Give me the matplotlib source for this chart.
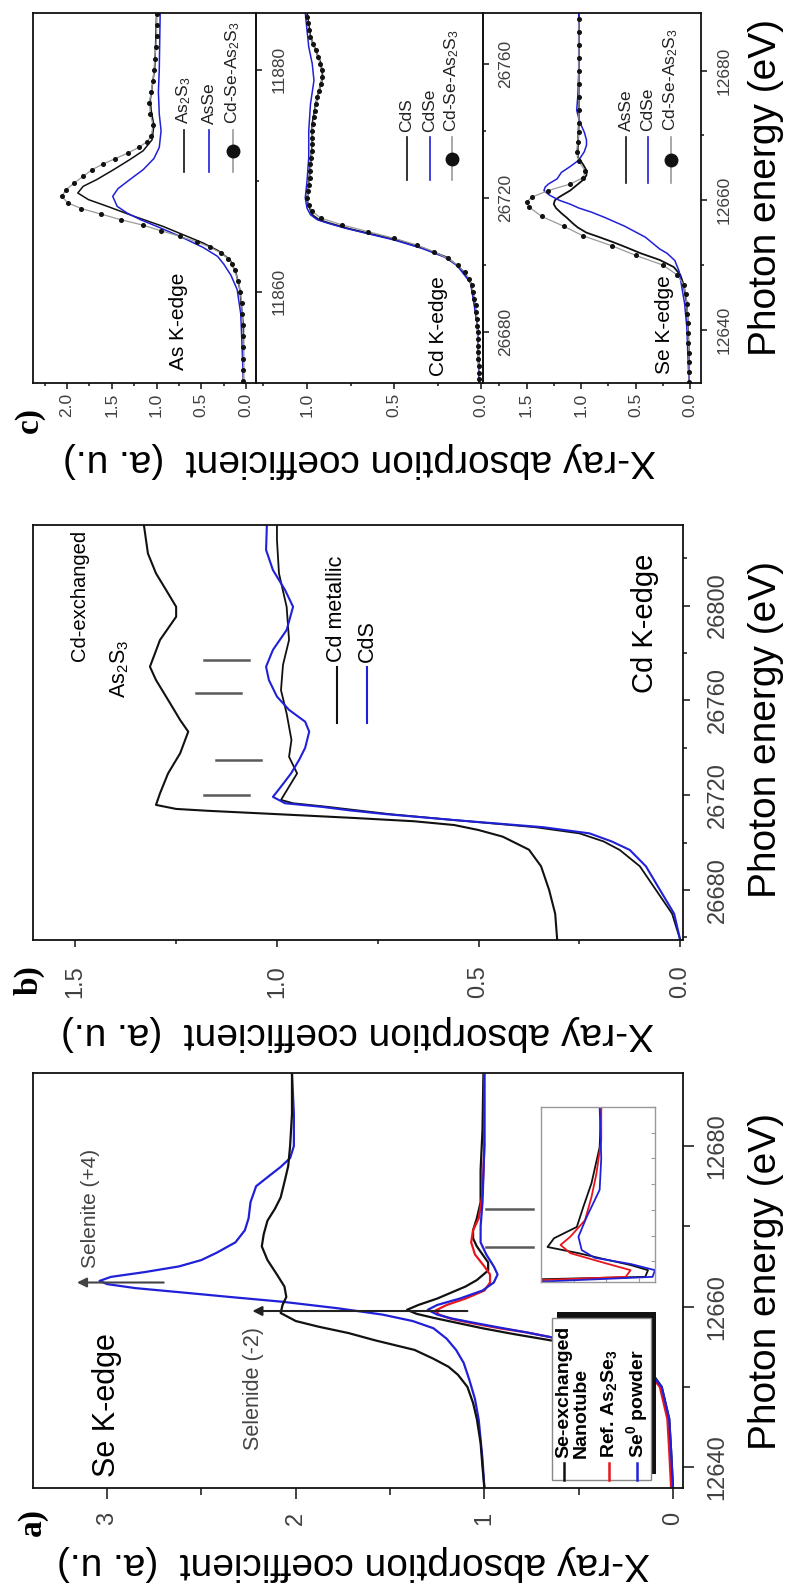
import matplotlib
matplotlib.use("Agg")
import matplotlib.pyplot as plt
import numpy as np
from matplotlib.lines import Line2D
from matplotlib.patches import Rectangle
from matplotlib.ticker import MultipleLocator, FormatStrFormatter

plt.rcParams["font.family"] = ["Liberation Sans", "DejaVu Sans"]
plt.rcParams["mathtext.default"] = "regular"

BLACK = "#111111"
BLUE = "#2020d8"
RED = "#e8161c"
GREY = "#5a5a5a"
TICK = "#404040"

# ---------------- panel a : Se K-edge, (energy eV, absorption) ----------------
a_nano_top = [(12637.4, 1.00), (12640, 1.01), (12643, 1.02), (12646, 1.04), (12648, 1.06),
              (12650, 1.09), (12651.5, 1.14), (12652.5, 1.19), (12653.5, 1.27), (12654.6, 1.37),
              (12655.8, 1.58), (12656.7, 1.72), (12657.5, 1.88), (12658.2, 2.00), (12659.2, 2.08),
              (12660.2, 2.07), (12661.2, 2.05), (12662.5, 2.06), (12664, 2.10), (12665.8, 2.15),
              (12667.5, 2.18), (12669, 2.17), (12670.7, 2.15), (12672.2, 2.11), (12673.6, 2.08),
              (12675.5, 2.06), (12677.5, 2.04), (12680, 2.03), (12684, 2.02), (12689.1, 2.02)]
a_selenite_top = [(12637.4, 1.00), (12641, 1.01), (12645.9, 1.03), (12648.5, 1.05), (12650.9, 1.08),
                  (12653, 1.11), (12654.6, 1.15), (12656, 1.20), (12657.3, 1.27), (12658.2, 1.38),
                  (12659, 1.54), (12659.8, 1.78), (12660.6, 2.07), (12661.2, 2.35), (12661.8, 2.62),
                  (12662.3, 2.85), (12662.8, 3.00), (12663.2, 3.04), (12663.7, 2.98), (12664.3, 2.80),
                  (12665, 2.62), (12665.8, 2.50), (12666.7, 2.42), (12668, 2.32), (12669.5, 2.27),
                  (12671, 2.25), (12673, 2.24), (12675, 2.21), (12676.3, 2.14), (12677.4, 2.08),
                  (12678.5, 2.03), (12680, 2.01), (12684, 2.01), (12689.1, 2.02)]
a_nano = [(12637.4, 0.00), (12642, 0.01), (12646, 0.02), (12648, 0.04), (12650, 0.06), (12652, 0.12),
          (12653.5, 0.24), (12654.5, 0.36), (12655.3, 0.52), (12655.8, 0.65), (12656.6, 0.85),
          (12657.3, 1.01), (12658, 1.15), (12658.6, 1.27), (12659.1, 1.36), (12659.6, 1.41),
          (12660.2, 1.35), (12661, 1.25), (12661.7, 1.18), (12662.5, 1.10), (12663.3, 1.04),
          (12664.5, 0.98), (12665.5, 0.98), (12666.5, 1.01), (12667.5, 1.04), (12668.5, 1.06),
          (12669.5, 1.06), (12671, 1.04), (12673, 1.02), (12677, 1.02), (12682, 1.01), (12689.1, 1.005)]
a_as2se3 = [(12637.4, 0.01), (12642, 0.02), (12646, 0.03), (12648, 0.05), (12650, 0.07), (12652, 0.14),
            (12653.5, 0.28), (12654.6, 0.42), (12655.5, 0.53), (12656.2, 0.65), (12656.8, 0.78),
            (12657.3, 0.92), (12658, 1.08), (12658.5, 1.18), (12659, 1.24), (12659.5, 1.26),
            (12660.2, 1.20), (12661, 1.10), (12662, 1.00), (12663, 0.97), (12664, 0.97), (12665, 1.00),
            (12666.5, 1.05), (12668, 1.07), (12669.5, 1.06), (12671, 1.03), (12674, 1.01),
            (12680, 1.00), (12689.1, 1.00)]
a_se0 = [(12637.4, 0.00), (12642, 0.01), (12646, 0.02), (12648, 0.04), (12650, 0.06), (12652, 0.13),
         (12653.5, 0.26), (12654.6, 0.41), (12655.5, 0.52), (12656.2, 0.65), (12656.8, 0.78),
         (12657.3, 0.90), (12658, 1.06), (12658.5, 1.17), (12659, 1.25), (12659.6, 1.30),
         (12660.2, 1.25), (12661, 1.13), (12662, 1.01), (12663, 0.95), (12664, 0.93), (12665, 0.95),
         (12666.5, 0.99), (12668, 1.02), (12670, 1.02), (12673, 1.01), (12680, 1.00), (12689.1, 1.00)]
# inset of panel a (energy, absorption)
in_nano = [(12656.5, 0.75), (12657, 1.44), (12658.3, 1.457), (12659.3, 1.35), (12660.5, 1.18),
           (12661.6, 1.03), (12662.8, 0.84), (12664.5, 0.88), (12666.7, 1.02), (12670.6, 1.06),
           (12675.2, 1.11), (12682.2, 1.16), (12690, 1.17)]
in_as2se3 = [(12656.3, 0.75), (12657, 1.32), (12658.3, 1.35), (12659.7, 1.19), (12661.6, 0.98),
             (12663.2, 0.92), (12664.8, 0.98), (12668, 1.07), (12672.5, 1.11), (12677, 1.14),
             (12683.6, 1.17), (12690, 1.17)]
in_se0 = [(12656, 0.75), (12657, 1.485), (12658.3, 1.50), (12659.5, 1.35), (12660.7, 1.13),
          (12662.2, 1.05), (12664.8, 1.03), (12668.6, 1.08), (12673.9, 1.16), (12680, 1.17), (12690, 1.16)]
a_marks = [12667.4, 12672.2]

# ---------------- panel b : Cd K-edge ----------------
b_cd_exch = [(26659, 0.305), (26670, 0.31), (26680, 0.325), (26690, 0.345), (26697, 0.375),
             (26702.5, 0.44), (26705.3, 0.50), (26707.4, 0.56), (26709, 0.66), (26710.4, 0.81),
             (26711.5, 0.94), (26712.5, 1.06), (26713.4, 1.17), (26714.2, 1.25), (26715.9, 1.30),
             (26720.8, 1.29), (26729.2, 1.27), (26737.7, 1.24), (26746.8, 1.22), (26751.7, 1.24),
             (26758.8, 1.265), (26768.6, 1.30), (26774.2, 1.315), (26785.5, 1.29), (26795.3, 1.25),
             (26799.5, 1.25), (26806.6, 1.275), (26813.6, 1.30), (26822, 1.32), (26834, 1.33)]
b_cd_metal = [(26659, 0.0), (26670, 0.02), (26680, 0.06), (26690, 0.10), (26696.9, 0.15),
              (26700.5, 0.19), (26703.9, 0.25), (26706.5, 0.36), (26709.5, 0.56), (26712, 0.72),
              (26713.6, 0.80), (26715.1, 0.875), (26716.6, 0.96), (26718, 0.99), (26723.6, 0.97),
              (26729.2, 0.95), (26736.2, 0.97), (26743.3, 0.964), (26754.5, 0.976), (26764.3, 0.99),
              (26775, 0.985), (26785.5, 0.97), (26799.5, 0.976), (26813.6, 0.995), (26827.7, 1.0),
              (26834, 1.0)]
b_cds = [(26659, 0.0), (26670, 0.015), (26680, 0.05), (26690, 0.085), (26696.9, 0.125),
         (26700.5, 0.17), (26703.9, 0.225), (26706.5, 0.34), (26709.5, 0.56), (26712, 0.73),
         (26713.6, 0.82), (26715.1, 0.89), (26716.6, 0.98), (26719.3, 1.01), (26723.6, 0.99),
         (26729.2, 0.965), (26734.9, 0.945), (26740, 0.93), (26746.8, 0.92), (26751, 0.93),
         (26756, 0.97), (26761.6, 1.0), (26768.6, 1.02), (26774.2, 1.027), (26781.3, 1.01),
         (26789.7, 0.976), (26799.5, 0.96), (26806.6, 0.98), (26815, 1.01), (26823.5, 1.027),
         (26834, 1.025)]
b_marks = [(26720, 1.07, 1.18), (26735, 1.04, 1.15), (26763, 1.09, 1.20), (26777, 1.07, 1.18)]

# ---------------- panel c : As, Cd and Se K-edges ----------------
c_as_as2s3 = [(11851.8, 0.03), (11856.8, 0.03), (11858.5, 0.05), (11860.2, 0.07), (11861.6, 0.11),
              (11862.9, 0.18), (11863.7, 0.31), (11864.4, 0.48), (11865.2, 0.72), (11865.9, 0.93),
              (11866.8, 1.25), (11867.7, 1.55), (11868.3, 1.76), (11868.9, 1.88), (11869.5, 1.82),
              (11870.1, 1.67), (11871, 1.48), (11871.9, 1.30), (11872.7, 1.15), (11873.7, 1.05),
              (11875, 1.03), (11876.3, 1.06), (11877.3, 1.07), (11879, 1.04), (11880.3, 1.02),
              (11882.5, 1.01), (11885.1, 1.00)]
c_as_asse = [(11851.8, 0.03), (11856, 0.05), (11858, 0.06), (11860.2, 0.10), (11861.5, 0.17),
             (11862.5, 0.25), (11863.2, 0.32), (11864, 0.48), (11865, 0.74), (11865.8, 0.97),
             (11866.5, 1.18), (11867.1, 1.33), (11867.7, 1.44), (11868.6, 1.49), (11869.3, 1.43),
             (11870.1, 1.30), (11871, 1.15), (11872, 1.03), (11873, 0.97), (11874.5, 0.95),
             (11876, 0.97), (11878, 0.98), (11880, 0.97), (11885.1, 0.96)]
c_as_sample = [(11852, 0.03), (11853, 0.03), (11854, 0.03), (11855, 0.03), (11856, 0.035), (11857, 0.04),
               (11858, 0.045), (11859, 0.05), (11860, 0.065), (11861, 0.09), (11862, 0.13), (11862.5, 0.16),
               (11863, 0.20), (11863.5, 0.28), (11864, 0.40), (11864.5, 0.55), (11865, 0.74), (11865.5, 0.95),
               (11866, 1.15), (11866.5, 1.40), (11867, 1.62), (11867.5, 1.84), (11868, 1.99), (11868.6, 2.06),
               (11869.2, 2.01), (11869.8, 1.92), (11870.4, 1.82), (11871, 1.72), (11871.5, 1.60),
               (11872, 1.46), (11872.5, 1.32), (11873, 1.20), (11873.5, 1.11), (11874, 1.06), (11875, 1.04),
               (11876, 1.07), (11877, 1.08), (11878, 1.06), (11879, 1.04), (11880, 1.03), (11881, 1.02),
               (11882, 1.01), (11883, 1.00), (11884, 1.00), (11885, 1.00)]
c_cd_cds = [(26664.9, 0.01), (26672, 0.015), (26681.6, 0.02), (26690, 0.04), (26694.7, 0.06),
            (26698, 0.10), (26700, 0.14), (26702.4, 0.20), (26705, 0.33), (26707.5, 0.48),
            (26709.5, 0.65), (26711, 0.77), (26712.5, 0.87), (26713.5, 0.93), (26715, 0.97),
            (26716.4, 0.98), (26719.4, 1.00), (26724, 0.99), (26730, 0.98), (26736, 0.97),
            (26742, 0.97), (26748, 0.95), (26752, 0.93), (26756, 0.91), (26760, 0.92),
            (26764, 0.95), (26768, 0.98), (26775.1, 1.00)]
c_cd_cdse = [(26664.9, 0.01), (26681.6, 0.02), (26694.7, 0.06), (26700, 0.14), (26702.4, 0.21),
             (26705, 0.34), (26707.5, 0.50), (26709.5, 0.66), (26711, 0.78), (26712.5, 0.88),
             (26713.5, 0.94), (26715, 0.98), (26717, 1.00), (26720, 1.01), (26725, 1.00),
             (26732, 0.99), (26740, 0.99), (26748, 0.98), (26755, 0.96), (26760, 0.97),
             (26765, 0.99), (26770, 1.00), (26775.1, 1.01)]
c_cd_sample = [(26666, 0.01), (26668, 0.01), (26670, 0.012), (26672, 0.015), (26674, 0.015), (26676, 0.017),
               (26678, 0.018), (26680, 0.02), (26682, 0.022), (26684, 0.025), (26686, 0.028), (26688, 0.032),
               (26690, 0.038), (26692, 0.045), (26694, 0.055), (26696, 0.07), (26698, 0.095), (26700, 0.135),
               (26702, 0.19), (26704, 0.27), (26706, 0.37), (26708, 0.50), (26710, 0.65), (26712, 0.80),
               (26714, 0.92), (26716, 0.97), (26718, 0.99), (26720, 1.0), (26722, 0.995), (26724, 0.99),
               (26726, 0.985), (26728, 0.98), (26730, 0.98), (26732, 0.975), (26734, 0.97), (26736, 0.97),
               (26738, 0.97), (26740, 0.97), (26742, 0.965), (26744, 0.96), (26746, 0.955), (26748, 0.95),
               (26750, 0.94), (26752, 0.93), (26754, 0.92), (26756, 0.915), (26758, 0.915), (26760, 0.925),
               (26762, 0.935), (26764, 0.95), (26766, 0.965), (26768, 0.98), (26770, 0.99), (26772, 0.995),
               (26774, 1.0)]
c_se_asse = [(12631.8, 0.01), (12636, 0.01), (12640.4, 0.02), (12644, 0.03), (12647, 0.06), (12648.5, 0.09),
             (12649.7, 0.15), (12650.8, 0.28), (12651.8, 0.45), (12652.7, 0.58), (12653.5, 0.70),
             (12654.3, 0.83), (12655, 0.95), (12655.8, 1.03), (12656.5, 1.08), (12657.3, 1.13),
             (12658, 1.18), (12658.8, 1.23), (12659.4, 1.25), (12660, 1.24), (12660.5, 1.20),
             (12661, 1.15), (12661.5, 1.10), (12662.6, 1.02), (12663.3, 0.97), (12663.9, 0.95),
             (12664.6, 0.95), (12665.5, 0.98), (12666.7, 1.03), (12668, 1.03), (12672, 1.02),
             (12680, 1.02), (12688.9, 1.02)]
c_se_cdse = [(12631.8, 0.01), (12636, 0.02), (12640.4, 0.03), (12644, 0.05), (12647, 0.08), (12649, 0.10),
             (12650.7, 0.14), (12651.8, 0.21), (12652.5, 0.28), (12654.3, 0.41), (12656, 0.60),
             (12657.4, 0.79), (12658.2, 0.91), (12658.8, 1.02), (12659.4, 1.10), (12660, 1.20),
             (12660.8, 1.29), (12661.5, 1.34), (12662, 1.33), (12662.5, 1.30), (12663.3, 1.22),
             (12664.3, 1.18), (12665.2, 1.10), (12666.2, 1.02), (12667.5, 0.97), (12668.5, 0.95),
             (12669.3, 0.95), (12670.5, 0.97), (12672, 1.01), (12673.9, 1.04), (12676, 1.03),
             (12680, 1.02), (12688.9, 1.02)]
c_se_sample = [(12632, 0.01), (12633.5, 0.01), (12635, 0.01), (12636.5, 0.01), (12638, 0.015), (12639.5, 0.02),
               (12641, 0.02), (12642.5, 0.025), (12644, 0.03), (12645.5, 0.04), (12647, 0.06), (12648.5, 0.12),
               (12650, 0.25), (12651.5, 0.50), (12653, 0.72), (12654.5, 0.98), (12656, 1.16), (12657.5, 1.36),
               (12659, 1.48), (12659.7, 1.50), (12660.5, 1.45), (12661.5, 1.30), (12662.5, 1.10),
               (12663.5, 0.98), (12664.5, 0.96), (12666, 1.02), (12667.5, 1.04), (12669, 1.03),
               (12670.5, 1.02), (12672, 1.02), (12674, 1.02), (12676, 1.02), (12678, 1.02), (12680, 1.02),
               (12682, 1.02), (12684, 1.02), (12686, 1.02), (12688, 1.02)]

W, H = 791, 1585
fig = plt.figure(figsize=(W / 100, H / 100), dpi=100)


def axes_px(x0, y0, x1, y1):
    return fig.add_axes([x0 / W, 1 - y1 / H, (x1 - x0) / W, (y1 - y0) / H], facecolor="none")


def fig_text(x, y, s, **kw):
    return fig.text(x / W, 1 - y / H, s, **kw)


def fig_line(xs, ys, **kw):
    fig.add_artist(Line2D([x / W for x in xs], [1 - y / H for y in ys],
                          transform=fig.transFigure, **kw))


def curve(ax, data, **kw):
    e, mu = np.array(data).T
    ax.plot(mu, e, solid_capstyle="round", **kw)


def style(ax, xlim, ylim, xstep, ystep, size, tick, xpad, ypad):
    ax.set_xlim(*xlim)
    ax.set_ylim(*ylim)
    ax.xaxis.set_major_locator(MultipleLocator(xstep))
    ax.xaxis.set_minor_locator(MultipleLocator(xstep / 2))
    ax.yaxis.set_major_locator(MultipleLocator(ystep))
    ax.yaxis.set_minor_locator(MultipleLocator(ystep / 2))
    ax.yaxis.set_major_formatter(FormatStrFormatter("%d"))
    ax.xaxis.set_major_formatter(FormatStrFormatter("%d" if xstep >= 1 else "%.1f"))
    ax.tick_params(which="both", direction="out", width=1.1, color=BLACK,
                   labelcolor=TICK, labelsize=size, labelrotation=90)
    ax.tick_params(which="major", length=tick)
    ax.tick_params(which="minor", length=tick * 0.6)
    ax.tick_params(axis="x", which="both", pad=xpad)
    ax.tick_params(axis="y", which="both", left=False, right=True,
                   labelleft=False, labelright=True, pad=ypad)
    for lab in ax.get_yticklabels():
        lab.set_verticalalignment("center")
    for sp in ax.spines.values():
        sp.set_linewidth(1.3)
        sp.set_color(BLACK)


# ---------------- panel c ----------------
ax_as = axes_px(33, 13, 256, 383)
ax_cd = axes_px(256, 13, 483, 383)
ax_se = axes_px(483, 13, 701, 383)
dots = dict(color="#9a9a9a", lw=0.9, marker="o", ms=2.6, mfc=BLACK, mec=BLACK)

curve(ax_as, c_as_as2s3, color=BLACK, lw=1.1)
curve(ax_as, c_as_asse, color=BLUE, lw=1.1)
curve(ax_as, c_as_sample, **dots)
curve(ax_cd, c_cd_cds, color=BLACK, lw=1.3)
curve(ax_cd, c_cd_cdse, color=BLUE, lw=1.1)
curve(ax_cd, c_cd_sample, **dots)
curve(ax_se, c_se_asse, color=BLACK, lw=1.3)
curve(ax_se, c_se_cdse, color=BLUE, lw=1.1)
curve(ax_se, c_se_sample, **dots)

style(ax_as, (2.38, -0.11), (11851.8, 11885.1), 0.5, 20, 12.5, 4, 3.2, 7)
style(ax_cd, (1.293, -0.011), (26664.9, 26775.1), 0.5, 40, 12.5, 4, 3.2, 7)
style(ax_se, (1.899, -0.10), (12631.8, 12688.9), 0.5, 20, 12.5, 4, 3.2, 7)

fig_text(178, 321, "As K-edge", rotation=90, ha="center", va="center", fontsize=15)
fig_text(438, 326, "Cd K-edge", rotation=90, ha="center", va="center", fontsize=15)
fig_text(665, 325, "Se K-edge", rotation=90, ha="center", va="center", fontsize=15)

c_legends = [
    ((184, 209, 233), 130, 172, 124, ("As$_2$S$_3$", "AsSe", "Cd-Se-As$_2$S$_3$")),
    ((407, 430, 452), 137, 180, 132, ("CdS", "CdSe", "Cd-Se-As$_2$S$_3$")),
    ((626, 648, 671), 137, 183, 131, ("AsSe", "CdSe", "Cd-Se-As$_2$S$_3$")),
]
for xs, y0, y1, yt, labels in c_legends:
    for x, lab, col in zip(xs, labels, (BLACK, BLUE, "#9a9a9a")):
        fig_line([x, x], [y0, y1], color=col, lw=1.2)
        fig_text(x, yt, lab, rotation=90, ha="center", va="bottom", fontsize=12.5, color="#222222")
    fig_line([xs[2]], [(y0 + y1) / 2], marker="o", ms=9, color=BLACK, lw=0)

# ---------------- panel b ----------------
ax_b = axes_px(33, 525, 683, 940)
curve(ax_b, b_cd_exch, color=BLACK, lw=1.5)
curve(ax_b, b_cd_metal, color=BLACK, lw=1.3)
curve(ax_b, b_cds, color=BLUE, lw=1.5)
for e, m0, m1 in b_marks:
    ax_b.plot([m0, m1], [e, e], color=GREY, lw=1.8)
style(ax_b, (1.605, -0.007), (26658.9, 26834), 0.5, 40, 17, 5, 13.5, 12)

fig_text(79, 661, "Cd-exchanged", rotation=90, ha="center", va="bottom", fontsize=14.5)
fig_text(120, 698, "As$_2$S$_3$", rotation=90, ha="center", va="bottom", fontsize=15.5)
fig_line([337, 337], [667, 723], color=BLACK, lw=1.5)
fig_line([367, 367], [667, 723], color=BLUE, lw=1.5)
fig_text(337, 662, "Cd metallic", rotation=90, ha="center", va="bottom", fontsize=15.5)
fig_text(367, 662, "CdS", rotation=90, ha="center", va="bottom", fontsize=15.5)
fig_text(645, 623, "Cd K-edge", rotation=90, ha="center", va="center", fontsize=21)

# ---------------- panel a ----------------
ax_a = axes_px(33, 1073, 683, 1488)
curve(ax_a, a_selenite_top, color=BLUE, lw=1.6)
curve(ax_a, a_nano_top, color=BLACK, lw=1.6)
curve(ax_a, a_nano, color=BLACK, lw=1.6)
curve(ax_a, a_as2se3, color=RED, lw=1.6)
curve(ax_a, a_se0, color=BLUE, lw=1.6)
for e in a_marks:
    ax_a.plot([0.99, 0.74], [e, e], color=GREY, lw=1.8)
ax_a.annotate("", xy=(3.16, 12663.0), xytext=(2.70, 12663.0),
              arrowprops=dict(arrowstyle="-|>", color="#444444", lw=1.5, mutation_scale=14,
                              shrinkA=0, shrinkB=0))
ax_a.annotate("", xy=(2.23, 12659.45), xytext=(1.09, 12659.45),
              arrowprops=dict(arrowstyle="-|>", color="#222222", lw=1.5, mutation_scale=14,
                              shrinkA=0, shrinkB=0))
style(ax_a, (3.393, -0.053), (12637.4, 12689.1), 1, 20, 17, 8, 9, 9)

fig_text(107, 1405, "Se K-edge", rotation=90, ha="center", va="center", fontsize=22)
fig_text(253, 1388, "Selenide (-2)", rotation=90, ha="center", va="center", fontsize=15.5, color="#444444")
fig_text(90, 1208, "Selenite (+4)", rotation=90, ha="center", va="center", fontsize=15, color="#444444")

# legend box of panel a
fig.add_artist(Rectangle((557 / W, 1 - 1474 / H), 99 / W, 162 / H, transform=fig.transFigure,
                         facecolor=BLACK, edgecolor="none", zorder=2.4))
fig.add_artist(Rectangle((552 / W, 1 - 1480 / H), 99 / W, 162 / H, transform=fig.transFigure,
                         facecolor="white", edgecolor="#888888", lw=1.0, zorder=2.5))
for x, col in ((564, BLACK), (609, RED), (637, BLUE)):
    fig_line([x, x], [1463, 1480], color=col, lw=1.8, zorder=2.6)
for x, lab in ((564, "Se-exchanged"), (581, "Nanotube"), (609, "Ref. As$_2$Se$_3$"),
               (637, "Se$^0$ powder")):
    fig_text(x, 1458, lab, rotation=90, ha="center", va="bottom", fontsize=14,
             fontweight="bold", zorder=2.7)

# inset of panel a
ax_in = axes_px(541, 1107, 655, 1282)
ax_in.set_facecolor("white")
curve(ax_in, in_nano, color=BLACK, lw=1.3)
curve(ax_in, in_as2se3, color=RED, lw=1.3)
curve(ax_in, in_se0, color=BLUE, lw=1.3)
ax_in.set_xlim(0.8, 1.5)
ax_in.set_ylim(12656, 12690)
ax_in.xaxis.set_major_locator(MultipleLocator(0.2))
ax_in.yaxis.set_major_locator(MultipleLocator(5))
ax_in.tick_params(which="both", direction="in", length=3, color="#999999", width=0.8,
                  left=False, right=True, top=False, bottom=True,
                  labelleft=False, labelbottom=False)
for sp in ax_in.spines.values():
    sp.set_color("#999999")
    sp.set_linewidth(1.0)

# ---------------- shared labels ----------------
for yc in (188, 730, 1281):
    fig_text(766, yc, "Photon energy (eV)", rotation=90, ha="center", va="center", fontsize=28)
for xc, yc in ((360, 460), (357, 1033), (354, 1563)):
    fig_text(xc, yc, "X-ray absorption coefficient  (a. u.)", rotation=180,
             ha="center", va="center", fontsize=28)
for (x, y), lab in (((32, 1522), "a)"), ((29, 980), "b)"), ((29, 420), "c)")):
    fig_text(x, y, lab, rotation=90, ha="center", va="center", fontsize=24, fontweight="bold",
             family=["Liberation Serif", "DejaVu Serif"])

fig.savefig("out.png", dpi=100)
